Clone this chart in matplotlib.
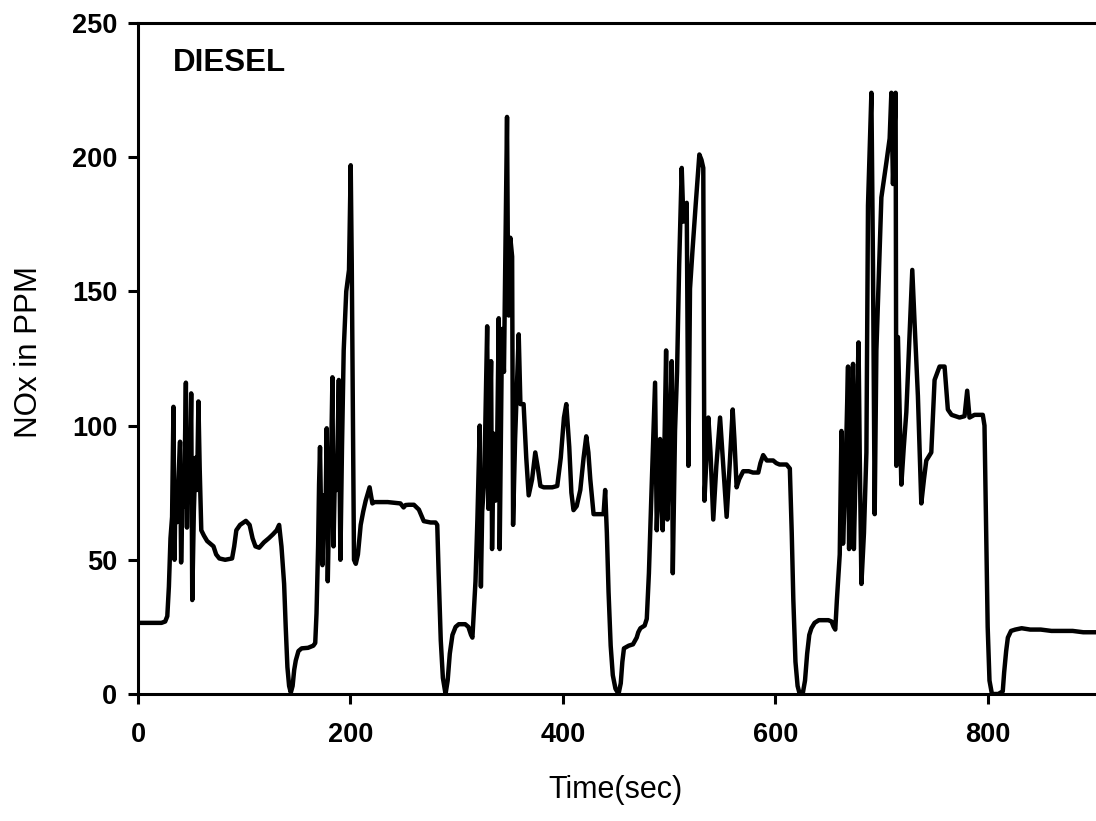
# -*- coding: utf-8 -*-
"""
柴油机瞬态工况 NOx 排放曲线（Time vs NOx in PPM）
"""
import numpy as np
import matplotlib.pyplot as plt

# ######################################################################################################################
# 数据：按五个循环分段记录（时间 sec，NOx ppm）
# ######################################################################################################################

# 第一个循环
t_cycle1 = [0, 12, 22, 25.5, 27.5, 29, 30.5, 32, 33.3, 34.3, 35.3, 36.5, 38, 39.5, 40.5, 41.8, 43.3, 45, 46,
            47.3, 48.7, 50, 51, 52.5, 54, 55.5, 56.8, 58, 59.5, 62, 65, 68, 71, 73.5, 76.5, 82, 88.5, 90.5,
            92.5, 96, 101.5, 105, 107.8, 110.5, 114, 118.5, 123, 127, 130.5, 132.8, 135, 136.3, 137.5, 139,
            140.6, 142.2, 143.8, 145.5, 147, 148.5, 151, 154, 160, 165, 166.8]
nox_cycle1 = [26.5, 26.5, 26.5, 27, 29, 40, 58, 66, 107, 50, 78, 64, 80, 94, 49, 74, 70, 116, 62,
              96, 78, 112, 35, 68, 88, 76, 109, 84, 61, 59, 57, 56, 55, 52, 50.5, 50, 50.5, 55,
              61, 63, 64.5, 63, 58, 55, 54.5, 56.5, 58, 59.5, 61, 63, 55, 48, 41, 25,
              10, 3, 0.5, 3, 9, 12.5, 16, 17, 17.2, 18, 19]

# 第二个循环
t_cycle2 = [168, 169.5, 170.4, 171.3, 172.5, 173.6, 175, 176.5, 177.6, 178.6, 180, 181.5, 183, 184, 185.5,
            187, 189, 190.5, 192, 193.6, 196, 198.6, 200.2, 201.2, 202.3, 203.3, 205, 207, 209.6, 212,
            214.3, 218, 220.6, 222, 235, 247, 250, 251.9, 255, 259.7, 264.4, 269, 275.4, 280.1, 281.7,
            283, 285, 287, 289.5, 291.5, 293.5, 296, 299, 302, 308, 311, 313.5, 314.8]
nox_cycle2 = [30, 55, 78, 92, 62, 48, 74, 68, 99, 42, 72, 82, 118, 55, 86,
              76, 117, 50, 92, 128, 150, 158, 197, 160, 100, 50, 48.5, 52, 63, 68,
              72, 77, 71, 71.5, 71.5, 71, 69.5, 70.4, 70.5, 70.5, 68.7, 64.4, 63.9, 63.9, 63,
              45, 20, 6, 0, 5, 15, 22, 25, 26, 26, 25, 22, 21]

# 第三个循环
t_cycle3 = [316, 317.7, 319.5, 321.7, 322.8, 324, 326, 328.7, 329.8, 331, 332.4, 333.3, 334.9, 336.5, 338,
            339.6, 340.5, 342.7, 344.5, 347.4, 348.2, 349, 350.5, 352.2, 353.1, 355, 358.4, 360, 363,
            365.5, 367.8, 371, 374, 376.5, 378.8, 382, 390, 394.7, 398, 401, 403.2, 406, 408, 410, 413,
            416.4, 419.5, 422, 424, 425.8, 428.9, 434, 438.3, 439.8, 441.4, 443, 445, 447, 449.5, 452.4,
            454.5, 456, 457.5, 462, 466, 469.5, 471, 473, 477]
nox_cycle3 = [30, 42, 65, 100, 40, 68, 80, 137, 69, 95, 124, 54, 97, 72, 90,
              140, 54, 136, 120, 215, 164, 141, 170, 163, 63, 95, 134, 108, 108,
              88, 74, 80, 90, 84, 77.5, 77, 77, 77.5, 88, 103, 108, 92, 75, 68.5, 70,
              76, 88, 96, 90, 80, 67, 67, 67, 76, 60, 38, 18, 7, 2, 0,
              4, 12, 17, 18, 18.5, 21, 23, 24.5, 25.5]

# 第四个循环
t_cycle4 = [479, 481, 483, 486.8, 488.4, 490, 491.5, 493, 494, 495.5, 497.2, 498.4, 500, 502.5, 503.5,
            505.6, 507.5, 509.5, 511.9, 513.5, 516.6, 518.2, 519.7, 522, 525, 528.5, 530.5, 532.2, 533.3,
            537, 539, 541.6, 544.5, 548, 551, 554.2, 557, 559.9, 561.5, 563.6, 566, 569.8, 575, 579, 584,
            586, 588.6, 592, 598, 601, 604, 610.6, 613.7, 615.5, 617, 619, 621, 623, 626, 628, 630, 632,
            634, 637, 641, 650, 653, 655]
nox_cycle4 = [28, 45, 70, 116, 61, 80, 95, 70, 61, 90, 128, 65, 85, 124, 45,
              98, 120, 160, 196, 176, 183, 85, 151, 165, 182, 201, 199, 196, 72,
              103, 90, 65, 85, 103, 85, 66, 85, 106, 95, 77, 80, 83, 83, 82.5, 82.5,
              86, 89, 87, 87, 86, 85.5, 85.5, 84, 60, 35, 12, 3, 0, 0.5, 5, 15, 22,
              24.5, 26.5, 27.5, 27.5, 27, 25]

# 第五个循环
t_cycle5 = [656.5, 658, 660.7, 662.3, 663.8, 666, 668.5, 669.5, 671, 673.2, 674, 676, 678.4, 679.5, 681.1,
            683.5, 685.8, 687.3, 690.5, 692, 693.6, 695.2, 699.9, 704.6, 707.7, 709.3, 710.8, 713.3, 714,
            715.5, 718.7, 721, 723.4, 726, 729, 731.2, 734.3, 737.5, 740, 742.2, 746.9, 750, 754.7, 759.4,
            762.5, 766, 773.5, 778.2, 780.7, 782.9, 787.6, 792.3, 795.4, 797, 798.6, 800, 801.7, 804, 810,
            814.2, 815.5, 817.4, 819, 822, 826, 832, 840, 850, 860, 870, 880, 890, 900]
nox_cycle5 = [24, 35, 52, 98, 56, 80, 122, 54, 85, 123, 54, 90, 131, 90, 41,
              60, 90, 182, 224, 160, 67, 128, 185, 198, 207, 224, 190, 224, 85,
              133, 78, 92, 105, 130, 158, 138, 111, 71, 80, 87, 90, 117, 122, 122,
              106, 104, 103, 103.5, 113, 103, 104, 104, 104, 100, 60, 25, 5, 0, 0,
              1, 8, 16, 21, 23.5, 24, 24.5, 24, 24, 23.5, 23.5, 23.5, 23, 23]

x_ticks = [0, 200, 400, 600, 800]
y_ticks = [0, 50, 100, 150, 200, 250]

time_sec = np.concatenate([t_cycle1, t_cycle2, t_cycle3, t_cycle4, t_cycle5])
nox_ppm = np.concatenate([nox_cycle1, nox_cycle2, nox_cycle3, nox_cycle4, nox_cycle5])

# ######################################################################################################################
# 绘图
# ######################################################################################################################
plt.rcParams['font.family'] = ['Liberation Sans', 'DejaVu Sans']

fig = plt.figure(figsize=(10.96, 8.21), dpi=100)
ax = fig.add_axes([0.126, 0.1547, 0.874, 0.8173])

ax.plot(time_sec, nox_ppm, color='black', linewidth=3.2, solid_joinstyle='round')

ax.set_xlim(0, 902)
ax.set_ylim(0, 250)
ax.set_xticks(x_ticks)
ax.set_yticks(y_ticks)

# 坐标轴样式~~~~~~~~~~~~~~~~~~~~~~~~~~~~~~~~~~~~~~~~~~~~~~~~~~~~~~~~~~~~~~~~~~~~~~~~~~~~~~~~~~~~~~~~~~
ax.spines['right'].set_visible(False)
for side in ['left', 'bottom', 'top']:
    ax.spines[side].set_linewidth(2.2)
ax.tick_params(axis='both', direction='out', length=7, width=2.2, labelsize=19.5)
ax.tick_params(axis='x', pad=13)
ax.tick_params(axis='y', pad=8)
for lab in ax.get_xticklabels() + ax.get_yticklabels():
    lab.set_fontweight('bold')

ax.set_xlabel('Time(sec)', fontsize=22)
ax.set_ylabel('NOx in PPM', fontsize=22.5)
ax.xaxis.set_label_coords(0.498, -0.143)
ax.xaxis.label.set_va('center')
ax.yaxis.set_label_coords(-0.114, 0.51)
ax.yaxis.label.set_va('center')

ax.text(0.0365, 0.94, 'DIESEL', transform=ax.transAxes, fontsize=22.5, fontweight='bold',
        ha='left', va='center')

plt.savefig('out.png', dpi=100)
